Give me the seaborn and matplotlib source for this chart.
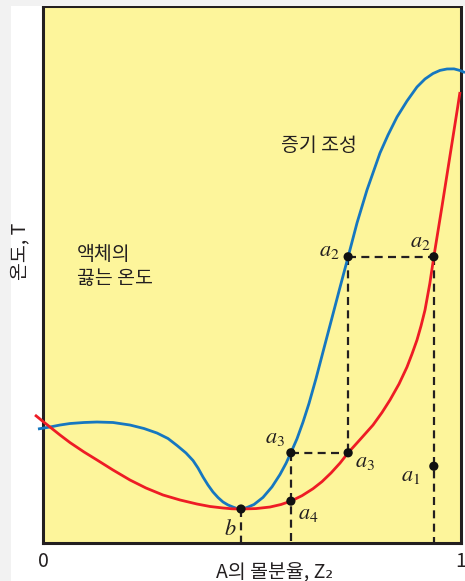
import matplotlib
matplotlib.use("Agg")
import matplotlib.pyplot as plt
from matplotlib.patches import Rectangle
import seaborn as sns
import pandas as pd

# Vapour composition curve (mole fraction of A, temperature)
vapor_x = [-0.012, 0.0167, 0.0407, 0.0646, 0.0981, 0.1292, 0.1675, 0.2081, 0.2416, 0.2727,
           0.2990, 0.3206, 0.3421, 0.3589, 0.3708, 0.3828, 0.3947, 0.4067, 0.4187, 0.4306,
           0.4426, 0.4545, 0.4641, 0.4737, 0.4880, 0.5048, 0.5263, 0.5478, 0.5670, 0.5813,
           0.593, 0.6077, 0.6220, 0.6364, 0.6531, 0.6722, 0.6914, 0.7105,
           0.730, 0.7512, 0.7751, 0.8062, 0.8254, 0.8469, 0.8708, 0.8947, 0.9139, 0.9330,
           0.9498, 0.9665, 0.9833, 0.9976, 1.0096]
vapor_t = [21.23, 21.60, 21.97, 22.25, 22.44, 22.53, 22.44, 21.97, 21.32, 20.48,
           19.46, 18.16, 16.76, 15.36, 13.97, 12.29, 10.80, 9.50, 8.47, 7.64,
           7.08, 6.70, 6.42, 6.33, 6.61, 7.17, 8.49, 10.45, 12.76, 14.82,
           16.8, 19.42, 22.51, 26.00, 30.61, 36.28, 41.94, 47.60,
           53.3, 59.59, 65.74, 72.63, 75.98, 79.33, 82.31, 84.92, 86.41, 87.43,
           88.01, 88.27, 88.29, 87.99, 87.60]

# Boiling temperature of the liquid
liquid_x = [-0.0191, 0.0, 0.0167, 0.0407, 0.0646, 0.0981, 0.1292, 0.1675, 0.2081, 0.2464,
            0.2871, 0.3278, 0.3684, 0.3995, 0.4306, 0.4522, 0.4737, 0.5096, 0.5431, 0.5694,
            0.593, 0.6196, 0.6459, 0.6675, 0.6890, 0.7105, 0.730, 0.7608, 0.7895, 0.8110,
            0.8301, 0.8517, 0.8708, 0.8828, 0.8947, 0.9043, 0.9139, 0.9254, 0.935, 0.9543,
            0.9732, 0.9921, 0.9976]
liquid_t = [23.84, 22.63, 21.60, 20.11, 18.70, 16.95, 15.46, 13.59, 11.73, 10.24,
            8.94, 8.01, 7.26, 6.80, 6.52, 6.37, 6.33, 6.41, 6.70, 7.17,
            7.8, 8.81, 10.11, 11.43, 13.04, 14.88, 16.8, 19.46, 21.97, 24.30,
            26.63, 29.61, 32.77, 35.20, 37.80, 40.41, 43.39, 48.32, 53.3, 62.57,
            71.88, 81.19, 83.99]

# Marked states
pt_names = ["a2v", "a2l", "a3v", "a3l", "a1", "a4", "b"]
pt_labels = [r"$a_2$", r"$a_2$", r"$a_3$", r"$a_3$", r"$a_1$", r"$a_4$", r"$b$"]
pt_x = [0.730, 0.935, 0.593, 0.730, 0.935, 0.593, 0.4737]
pt_t = [53.3, 53.3, 16.8, 16.8, 14.3, 7.8, 6.33]
pt_offsets = [(-19, 7), (-14, 16), (-16, 16), (17, -8), (-23, -8), (17, -11), (-11, -19)]

x_ticks = [0, 1]
x_ticklabels = ["0", "1"]

YELLOW = "#fdf59b"
BLUE = "#1677c0"
RED = "#ee1c25"
INK = "#231f20"
KFONT = ["Noto Sans CJK KR", "DejaVu Sans"]

sns.set_theme(style="white")
plt.rcParams["font.family"] = KFONT
plt.rcParams["mathtext.fontset"] = "stix"

fig = plt.figure(figsize=(4.65, 5.81), dpi=100, facecolor="white")
fig.patches.append(Rectangle((0, 0), 11 / 465, 1, transform=fig.transFigure,
                             facecolor="#f2f2f2", edgecolor="none", zorder=0))
fig.patches.append(Rectangle((0, 1 - 6 / 581), 1, 6 / 581, transform=fig.transFigure,
                             facecolor="#f2f2f2", edgecolor="none", zorder=0))

ax = fig.add_axes([43 / 465, 1 - 543 / 581, 418 / 465, 537 / 581])
ax.set_facecolor(YELLOW)

vap = pd.DataFrame({"z": vapor_x, "T": vapor_t})
liq = pd.DataFrame({"z": liquid_x, "T": liquid_t})
curve_kw = dict(sort=False, estimator=None, lw=2.0, clip_on=False, ax=ax, zorder=3,
                solid_joinstyle="round", solid_capstyle="butt")
sns.lineplot(data=vap, x="z", y="T", color=BLUE, **curve_kw)
sns.lineplot(data=liq, x="z", y="T", color=RED, **curve_kw)

pts = dict(zip(pt_names, zip(pt_x, pt_t)))
dash = dict(color=INK, lw=1.6, ls=(0, (3.6, 2.4)), zorder=2)
# tie lines and drop lines
ax.plot([pts["a2v"][0], pts["a2l"][0]], [pts["a2v"][1], pts["a2l"][1]], **dash)
ax.plot([pts["a3v"][0], pts["a3l"][0]], [pts["a3v"][1], pts["a3l"][1]], **dash)
ax.plot([pts["a2v"][0], pts["a3l"][0]], [pts["a2v"][1], pts["a3l"][1]], **dash)
ax.plot([pts["a2l"][0], pts["a2l"][0]], [pts["a2l"][1], 0], **dash)
ax.plot([pts["a3v"][0], pts["a3v"][0]], [pts["a3v"][1], 0], **dash)
ax.plot([pts["b"][0], pts["b"][0]], [pts["b"][1], 0], **dash)

pdf = pd.DataFrame({"z": pt_x, "T": pt_t})
sns.scatterplot(data=pdf, x="z", y="T", color="#111111", s=44, edgecolor="none",
                ax=ax, zorder=5, clip_on=False)

for lab, x, t, off in zip(pt_labels, pt_x, pt_t, pt_offsets):
    ax.annotate(lab, (x, t), xytext=off, textcoords="offset pixels",
                ha="center", va="center", fontsize=16, color=INK)

ax.text(0.66, 74.1, "증기 조성", fontsize=14, color=INK, ha="center", va="center",
        family=KFONT)
ax.text(0.081, 51.5, "액체의\n끓는 온도", fontsize=14, color=INK, ha="left",
        va="center", linespacing=1.2, family=KFONT)

ax.set_xlim(0, 1)
ax.set_ylim(0, 100)
ax.set_xticks(x_ticks)
ax.set_xticklabels(x_ticklabels, fontsize=14, color=INK)
ax.set_yticks([])
ax.tick_params(axis="x", length=0, pad=6)
ax.set_xlabel("")
ax.set_ylabel("")
for sp in ax.spines.values():
    sp.set_visible(True)
    sp.set_color(INK)
    sp.set_linewidth(2.2)

ax.text(0.555, -0.054, "A의 몰분율, Z₂", transform=ax.transAxes, fontsize=14,
        color=INK, ha="center", va="center", family=KFONT)
fig.text(20 / 465, 1 - 251 / 581, "온도, T", rotation=90, fontsize=14, color=INK,
         ha="center", va="center", family=KFONT)

fig.savefig("out.png", dpi=100, facecolor="white")
